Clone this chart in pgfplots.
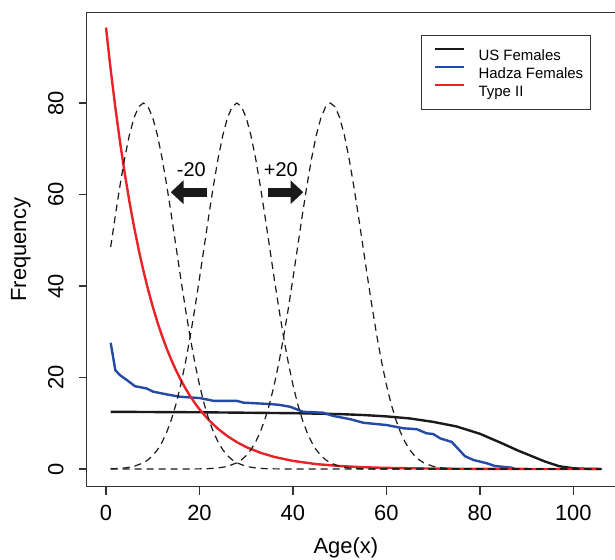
\documentclass[border=0pt]{standalone}
\usepackage{fontspec}
\setmainfont{Liberation Sans}
\usepackage{pgfplots}
\pgfplotsset{compat=1.18}
\usetikzlibrary{calc,arrows.meta}
\definecolor{usblk}{HTML}{1A1A1A}
\definecolor{hadza}{HTML}{234BA5}
\definecolor{typeii}{HTML}{E82328}
\definecolor{frame}{HTML}{333333}

\begin{document}
\begin{tikzpicture}
\begin{axis}[name=ax,scale only axis,width=267.15bp,height=237bp,
  xmin=-4.13,xmax=110.2,ymin=-3.87,ymax=99.74,
  xtick={0,20,40,60,80,100},ytick={0,20,40,60,80},
  tick pos=left,tick align=outside,major tick length=4bp,
  axis line style={frame,line width=0.75bp},tick style={frame,line width=0.75bp},
  /pgf/number format/assume math mode=true,
  tick label style={font=\fontsize{11}{13}\selectfont,inner sep=0pt},
  xticklabel style={yshift=-5.1bp},
  yticklabel style={xshift=-7.3bp,rotate=90,anchor=south},
  xlabel={Age(x)},ylabel={Frequency},
  label style={font=\fontsize{11}{13}\selectfont},
  xlabel style={at={(axis description cs:0.485,-0.1293)},anchor=center},
  ylabel style={at={(axis description cs:-0.123,0.5)},anchor=center},
  legend style={at={(axis description cs:0.6251,0.953)},anchor=north west,
    draw=frame,line width=0.5bp,fill=white,inner xsep=3.65bp,inner ysep=6bp,
    font=\fontsize{7.5}{9}\selectfont,row sep=1.6bp,column sep=6.65bp,
    nodes={inner sep=0pt,text height=6.7bp,text depth=0.6bp}},
  legend cell align=left,
  legend image code/.code={\path (0bp,0bp); \draw[#1,line width=0.9bp] (2.65bp,2.7bp) -- (17.35bp,2.7bp);}]

\addplot[usblk,line width=1.2bp] coordinates {(1,12.5) (10,12.45) (20,12.4) (30,12.3) (40,12.2) (50,12.0) (55,11.8) (60,11.5) (65,11.05) (70,10.3) (75,9.3) (80,7.7) (85,5.5) (88,4.1) (91,2.85) (94,1.6) (97,0.6) (100,0.15) (103,0.04) (106,0)};
\addlegendentry{US Females}

\addplot[hadza,line width=1.2bp] coordinates {(1,27.6) (2,21.6) (3,20.5) (4.4,19.5) (6.2,18.1) (8.7,17.6) (10.1,16.9) (13,16.3) (15.8,15.8) (20.1,15.5) (23,14.9) (28,14.9) (29.4,14.5) (35.1,14.2) (37.2,14.0) (39.4,13.6) (42.2,12.5) (46.5,12.3) (48.6,11.6) (52.2,10.9) (55.1,10.1) (60.1,9.6) (63.6,8.9) (66.5,8.7) (68.6,7.8) (70,7.65) (71.5,6.7) (74,5.9) (76.8,2.8) (78.6,1.97) (81.5,1.25) (83.2,0.66) (86.8,0.28) (87.5,0)};
\addlegendentry{Hadza Females}

\addplot[typeii,line width=1.2bp] coordinates {(0,96.5) (1,87.32) (2,79.01) (3,71.49) (4,64.69) (5,58.53) (6,52.96) (7,47.92) (8,43.36) (9,39.23) (10,35.50) (11,32.12) (12,29.07) (13,26.30) (14,23.80) (15,21.53) (16,19.48) (17,17.63) (18,15.95) (19,14.43) (20,13.06) (22,10.69) (24,8.75) (26,7.17) (28,5.87) (30,4.80) (33,3.56) (36,2.64) (40,1.77) (45,1.07) (50,0.65) (55,0.39) (60,0.24) (70,0.09) (80,0.03) (90,0.01) (106,0)};
\addlegendentry{Type II}

% shifted normal curves
\addplot[usblk,line width=0.6bp,dash pattern=on 3.5bp off 2.5bp,forget plot] coordinates {(1,48.52) (2,55.40) (3,61.98) (4,67.95) (5,72.98) (6,76.80) (7,79.19) (8,80) (9,79.19) (10,76.80) (11,72.98) (12,67.95) (13,61.98) (14,55.40) (15,48.52) (16,41.64) (17,35.01) (18,28.84) (19,23.27) (20,18.40) (21,14.26) (22,10.83) (23,8.06) (24,5.87) (25,4.19) (26,2.93) (27,2.01) (28,1.35) (30,0.57) (32,0.22) (34,0.08) (36,0.03) (38,0.01) (106,0)};
\addplot[usblk,line width=0.6bp,dash pattern=on 3.5bp off 2.5bp,forget plot] coordinates {(1,0.05) (2,0.08) (4,0.22) (6,0.57) (8,1.35) (9,2.01) (10,2.93) (11,4.19) (12,5.87) (13,8.06) (14,10.83) (15,14.26) (16,18.40) (17,23.27) (18,28.84) (19,35.01) (20,41.64) (21,48.52) (22,55.40) (23,61.98) (24,67.95) (25,72.98) (26,76.80) (27,79.19) (28,80) (29,79.19) (30,76.80) (31,72.98) (32,67.95) (33,61.98) (34,55.40) (35,48.52) (36,41.64) (37,35.01) (38,28.84) (39,23.27) (40,18.40) (41,14.26) (42,10.83) (43,8.06) (44,5.87) (45,4.19) (46,2.93) (47,2.01) (48,1.35) (50,0.57) (52,0.22) (54,0.08) (56,0.03) (58,0.01) (106,0)};
\addplot[usblk,line width=0.6bp,dash pattern=on 3.5bp off 2.5bp,forget plot] coordinates {(1,0) (18,0.01) (20,0.03) (22,0.08) (24,0.22) (26,0.57) (28,1.35) (29,2.01) (30,2.93) (31,4.19) (32,5.87) (33,8.06) (34,10.83) (35,14.26) (36,18.40) (37,23.27) (38,28.84) (39,35.01) (40,41.64) (41,48.52) (42,55.40) (43,61.98) (44,67.95) (45,72.98) (46,76.80) (47,79.19) (48,80) (49,79.19) (50,76.80) (51,72.98) (52,67.95) (53,61.98) (54,55.40) (55,48.52) (56,41.64) (57,35.01) (58,28.84) (59,23.27) (60,18.40) (61,14.26) (62,10.83) (63,8.06) (64,5.87) (65,4.19) (66,2.93) (67,2.01) (68,1.35) (70,0.57) (72,0.22) (74,0.08) (76,0.03) (78,0.01) (106,0)};

% shift annotations
\draw[usblk,line width=4.5bp,-{Triangle[length=6.4bp,width=11.5bp]}] (axis cs:21.55,60.5) -- (axis cs:13.85,60.5);
\draw[usblk,line width=4.5bp,-{Triangle[length=6.4bp,width=11.5bp]}] (axis cs:34.73,60.5) -- (axis cs:42.22,60.5);
\node[font=\fontsize{10}{12}\selectfont,inner sep=0pt] at (axis cs:18.25,65.4) {-20};
\node[font=\fontsize{10}{12}\selectfont,inner sep=0pt] at (axis cs:37.4,65.4) {+20};
\end{axis}
\pgfresetboundingbox
\path ($(ax.south west)+(-43.35bp,-36.65bp)$) rectangle ($(ax.south west)+(264.15bp,243.35bp)$);
\end{tikzpicture}
\end{document}
